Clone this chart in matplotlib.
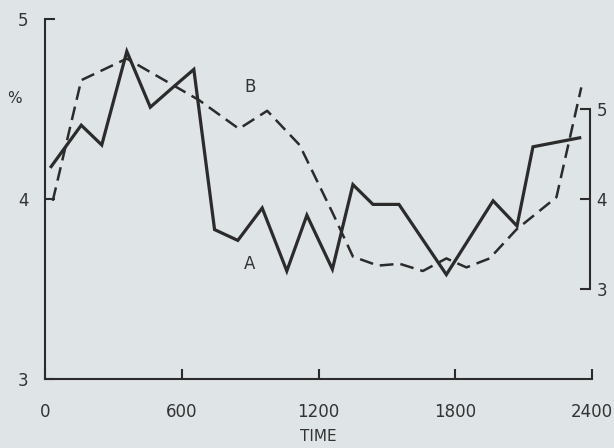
import numpy as np
import matplotlib.pyplot as plt

# series A (solid) and B (dashed)
t_a = [27, 159, 249, 359, 462, 561, 653, 744, 846, 953, 1061, 1149, 1261,
       1351, 1439, 1553, 1761, 1966, 2071, 2141, 2346]
a = [4.18, 4.41, 4.30, 4.82, 4.51, 4.62, 4.72, 3.83, 3.77, 3.95, 3.60, 3.91,
     3.61, 4.08, 3.97, 3.97, 3.58, 3.99, 3.85, 4.29, 4.34]

t_b = [34, 159, 359, 675, 851, 975, 1117, 1263, 1351, 1461, 1556, 1658,
       1761, 1849, 1951, 2068, 2244, 2353]
b = [3.99, 4.66, 4.78, 4.55, 4.39, 4.49, 4.30, 3.92, 3.68, 3.63, 3.64, 3.60,
     3.67, 3.62, 3.67, 3.83, 4.01, 4.62]

xticks = [0, 600, 1200, 1800, 2400]
yticks = [3, 4, 5]

bg = '#dfe4e7'
ink = '#2b2b2b'

fig = plt.figure(figsize=(6.14, 4.48), dpi=100, facecolor=bg)
ax = fig.add_axes([45 / 614, 69 / 448, 547 / 614, 360 / 448])
ax.set_facecolor(bg)

ax.plot(t_a, a, color=ink, lw=2.3, solid_joinstyle='miter')
ax.plot(t_b, b, color=ink, lw=1.8, linestyle=(0, (5.5, 2.8)))

ax.set_xlim(0, 2400)
ax.set_ylim(3, 5)
ax.set_xticks(xticks)
ax.set_yticks(yticks)
for s in ['top', 'right']:
    ax.spines[s].set_visible(False)
for s in ['left', 'bottom']:
    ax.spines[s].set_linewidth(1.5)
    ax.spines[s].set_color(ink)
ax.tick_params(direction='in', length=7, width=1.5, color=ink,
               labelsize=12, labelcolor='#333333')
ax.tick_params(axis='x', pad=17)
ax.tick_params(axis='y', pad=12)
ax.set_xlabel('TIME', fontsize=11, color='#333333', labelpad=6)

ax.text(-0.055, 0.78, '%', transform=ax.transAxes, fontsize=11,
        color='#333333', ha='center', va='center')
ax.text(898, 4.62, 'B', fontsize=12, color='#333333', ha='center', va='center')
ax.text(898, 3.64, 'A', fontsize=12, color='#333333', ha='center', va='center')

# right-hand bracket scale
ax2 = ax.twinx()
ax2.set_ylim(2, 6)
ax2.set_yticks(yticks)
for s in ['top', 'left', 'bottom']:
    ax2.spines[s].set_visible(False)
ax2.spines['right'].set_bounds(3, 5)
ax2.spines['right'].set_linewidth(1.5)
ax2.spines['right'].set_color(ink)
ax2.spines['right'].set_position(('data', 2390))
ax2.tick_params(direction='in', length=7, width=1.5, color=ink,
                labelsize=12, labelcolor='#333333', pad=5)

fig.savefig('out.png', dpi=100, facecolor=bg)
